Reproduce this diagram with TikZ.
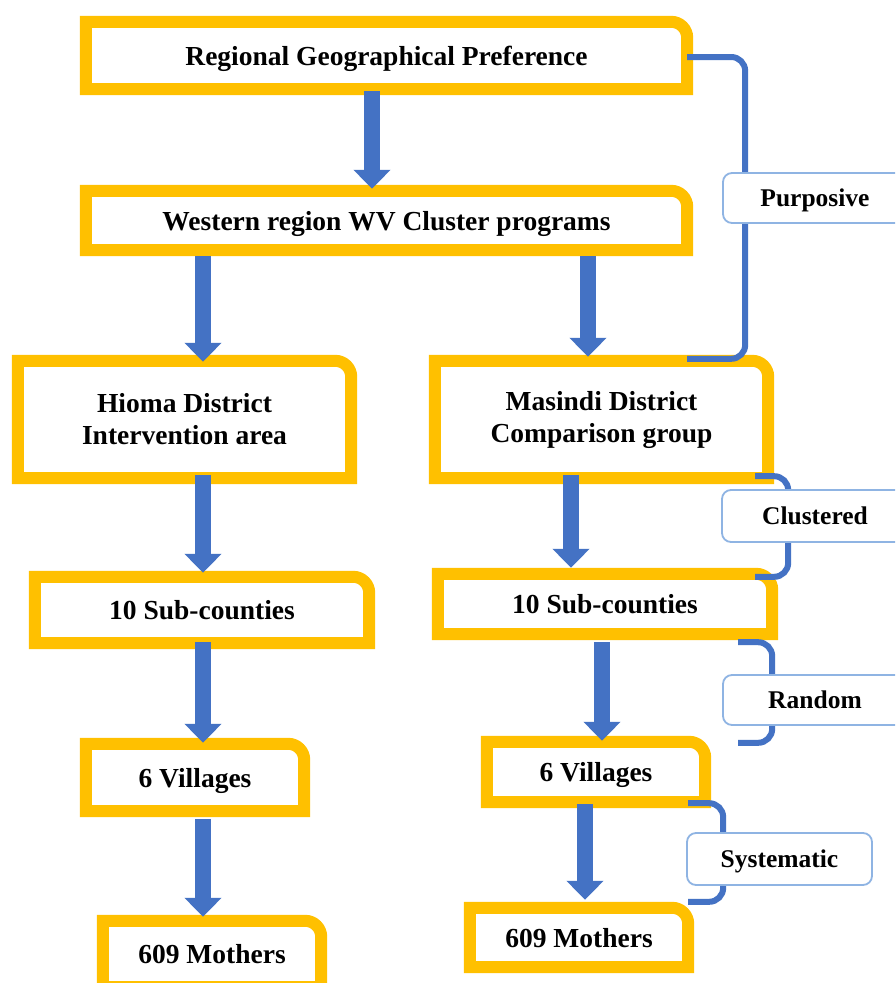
\documentclass[tikz,border=0pt]{standalone}
\usepackage{fontspec}
\setmainfont{Liberation Serif}
\usetikzlibrary{arrows.meta}
\definecolor{ylw}{HTML}{FFC000}
\definecolor{blu}{HTML}{4472C4}
\definecolor{lbl}{HTML}{8FB4E3}
\newcommand\ybox[1]{\draw[ybord] (#1.south west) -- (#1.north west) -- ([xshift=-16pt]#1.north east) arc[start angle=90,end angle=0,radius=16pt] -- (#1.south east) -- cycle;}
\begin{document}
\begin{tikzpicture}[x=1pt,y=-1pt,
  btext/.style={draw=none, inner sep=0pt, align=center, font=\fontsize{27.5}{32}\selectfont\bfseries},
  oneline/.style={text depth=0pt},
  ybord/.style={draw=ylw, line width=12pt, line join=miter},
  arr/.style={draw=blu, fill=blu, line width=16pt, -{Triangle[width=36pt,length=19pt]}},
  brk/.style={draw=blu, line width=6pt, rounded corners=14pt},
  lab/.style={draw=lbl, line width=1.8pt, fill=white, rounded corners=9pt, inner sep=0pt, text depth=0pt, font=\fontsize{25.5}{30}\selectfont\bfseries}]
\useasboundingbox (0,0) rectangle (895,983);
\clip (0,0) rectangle (895,983);
\fill[white] (0,0) rectangle (895,983);

% box texts
\node[btext, oneline, minimum width=601pt, minimum height=67pt] (A) at (386.5,55.5) {Regional Geographical Preference};
\node[btext, oneline, minimum width=601pt, minimum height=59pt] (B) at (386.5,220.5) {Western region WV Cluster programs};
\node[btext, minimum width=333pt, minimum height=117pt] (C) at (184.5,419.5) {Hioma District\\Intervention area};
\node[btext, minimum width=333pt, minimum height=117pt] (D) at (601.5,419.5) {Masindi District\\Comparison group};
\node[btext, oneline, minimum width=334pt, minimum height=66pt] (EL) at (202,610) {10 Sub-counties};
\node[btext, oneline, minimum width=334pt, minimum height=60pt] (ER) at (605,604) {10 Sub-counties};
\node[btext, oneline, minimum width=218pt, minimum height=67pt] (FL) at (195,777.5) {6 Villages};
\node[btext, oneline, minimum width=218pt, minimum height=60pt] (FR) at (596,772) {6 Villages};
\node[btext, oneline, minimum width=218pt, minimum height=66pt] (GL) at (212,954) {609 Mothers};
\node[btext, oneline, minimum width=218pt, minimum height=59pt] (GR) at (579,937.5) {609 Mothers};

% yellow borders
\ybox{A}\ybox{B}\ybox{C}\ybox{D}\ybox{EL}\ybox{ER}\ybox{FL}\ybox{FR}\ybox{GL}\ybox{GR}

% brackets
\draw[brk] ([yshift=-1.5pt]A.east) -- ++(58,0) |- ([xshift=85.5pt,yshift=2pt]D.north);
\draw[brk] ([xshift=-13pt,yshift=2pt]D.south east) -- ++(33,0) |- ([xshift=-17pt,yshift=-3pt]ER.north east);
\draw[brk] ([xshift=-34pt,yshift=-8pt]ER.south east) -- ++(34,0) |- ([xshift=33pt,yshift=-1pt]FR.north east);
\draw[brk] ([xshift=-17pt,yshift=-1pt]FR.south east) -- ++(35,0) |- ([yshift=6pt]GR.north east);

% labels
\node[lab, minimum width=184pt, minimum height=50pt] (P) at (815,198) {Purposive};
\node[lab, minimum width=186pt, minimum height=52pt] (Q) at (815,516) {Clustered};
\node[lab, minimum width=184pt, minimum height=50pt] (R) at (815,700) {Random};
\node[lab, minimum width=185pt, minimum height=52pt] (S) at (779.5,859) {Systematic};

% arrows
\draw[arr] ([xshift=-14.5pt,yshift=-2pt]A.south) -- ([xshift=-14.5pt,yshift=2pt]B.north);
\draw[arr] ([xshift=-183.5pt,yshift=-6pt]B.south) -- ([xshift=18.5pt,yshift=-1pt]C.north);
\draw[arr] ([xshift=201.5pt,yshift=-6pt]B.south) -- ([xshift=-13.5pt,yshift=4pt]D.north);
\draw[arr] ([xshift=18.5pt,yshift=3pt]C.south) -- ([xshift=1pt,yshift=4pt]EL.north);
\draw[arr] ([xshift=-30.5pt,yshift=3pt]D.south) -- ([xshift=-34pt,yshift=6pt]ER.north);
\draw[arr] ([xshift=1pt,yshift=1pt]EL.south) -- ([xshift=8pt,yshift=1pt]FL.north);
\draw[arr] ([xshift=-3pt,yshift=-8pt]ER.south) -- ([xshift=6pt,yshift=1pt]FR.north);
\draw[arr] ([xshift=8pt,yshift=-8pt]FL.south) -- ([xshift=-9pt,yshift=4pt]GL.north);
\draw[arr] ([xshift=-11pt,yshift=-2pt]FR.south) -- ([xshift=6pt,yshift=8pt]GR.north);
\end{tikzpicture}
\end{document}
